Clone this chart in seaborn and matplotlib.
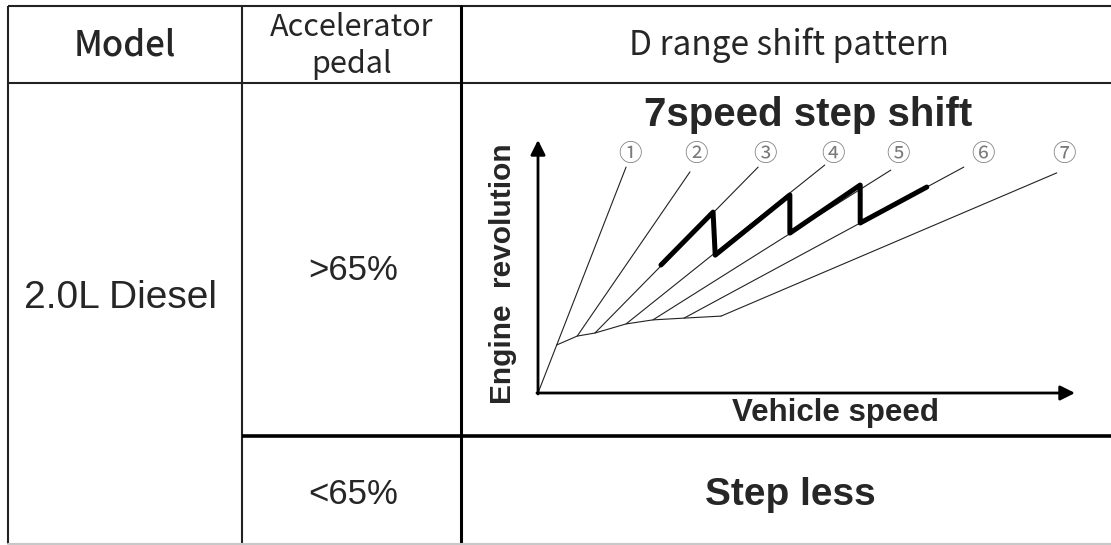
import matplotlib
matplotlib.use("Agg")
import matplotlib.pyplot as plt
import seaborn as sns

# === DATA ===
gear_labels = ["①", "②", "③", "④", "⑤", "⑥", "⑦"]
# where each gear line leaves the low curve and where it ends (speed, revolution)
gear_start_speed = [0.0, 7.3, 10.6, 16.4, 21.4, 27.2, 34.1]
gear_start_rev = [0.0, 22.5, 23.7, 27.3, 28.9, 29.6, 30.4]
gear_end_speed = [16.4, 28.3, 41.0, 53.4, 65.7, 79.3, 96.6]
gear_end_rev = [89.3, 87.4, 89.3, 90.1, 88.1, 89.3, 87.0]
label_speed = [17.1, 29.5, 42.2, 54.9, 67.0, 82.8, 97.9]
label_rev = 94.1

# low curve joining the gear lines
base_speed = [3.5, 7.3, 10.6, 16.4, 21.4, 27.2, 34.1]
base_rev = [19.0, 22.5, 23.7, 27.3, 28.9, 29.6, 30.4]

# thick step-shift trace (3rd -> 6th)
shift_speed = [22.9, 32.6, 33.0, 46.9, 46.9, 60.0, 60.0, 72.4]
shift_rev = [50.6, 71.5, 54.5, 78.3, 63.2, 82.2, 67.2, 81.4]

header = ["Model", "Accelerator\npedal", "D range shift pattern"]
model_name = "2.0L Diesel"
pedal_rows = [">65%", "<65%"]
title_7speed = "7speed step shift"
step_less = "Step less"

# === FIGURE ===
sns.set_theme(style="white")
plt.rcParams["font.family"] = ["Liberation Sans", "Noto Sans CJK JP", "DejaVu Sans"]

W, H = 1111, 545
fig = plt.figure(figsize=(W / 100, H / 100), dpi=100)
ax = fig.add_axes([0, 0, 1, 1])
ax.set_xlim(0, W)
ax.set_ylim(H, 0)
ax.axis("off")

# table grid (pixel layout)
line_kw = dict(color="#222222", solid_capstyle="butt")
ax.plot([8, W], [6, 6], lw=1.5, **line_kw)
ax.plot([8, 8], [6, 544], lw=1.5, **line_kw)
ax.plot([8, W], [83, 83], lw=1.5, **line_kw)
ax.plot([242, 242], [6, 544], lw=1.5, **line_kw)
ax.plot([461, 461], [6, 544], lw=2.2, color="black")
ax.plot([242, W], [436, 436], lw=2.6, color="black", solid_capstyle="butt")
ax.plot([8, W], [544, 544], lw=1.5, color="#c8c8c8")

cjk = ["Noto Sans CJK JP", "DejaVu Sans"]
ax.text(125, 45, header[0], fontsize=25, family=cjk, fontweight="medium",
        ha="center", va="center")
ax.text(352, 28, header[1].split("\n")[0], fontsize=22, family=cjk, ha="center", va="center")
ax.text(352, 65, header[1].split("\n")[1], fontsize=22, family=cjk, ha="center", va="center")
ax.text(789, 45, header[2], fontsize=24, family=cjk, ha="center", va="center")

ax.text(121, 298, model_name, fontsize=28, ha="center", va="center")
ax.text(353, 270, pedal_rows[0], fontsize=25, ha="center", va="center")
ax.text(353, 495, pedal_rows[1], fontsize=25, ha="center", va="center")
ax.text(790, 495, step_less, fontsize=28, fontweight="bold", ha="center", va="center")

# diagram texts
ax.text(808, 115, title_7speed, fontsize=29, fontweight="bold", ha="center", va="center")
ax.text(503, 274, "Engine  revolution", fontsize=21.5, fontweight="bold",
        rotation=90, ha="center", va="center")
ax.text(835, 413, "Vehicle speed", fontsize=22.5, fontweight="bold", ha="center", va="center")

# === SHIFT DIAGRAM ===
dx = fig.add_axes([538 / W, 1 - 393 / H, 537 / W, 253 / H])
dx.set_xlim(0, 100)
dx.set_ylim(0, 100)
dx.axis("off")
dx.patch.set_alpha(0)

for i in range(len(gear_labels)):
    sns.lineplot(x=[gear_start_speed[i], gear_end_speed[i]],
                 y=[gear_start_rev[i], gear_end_rev[i]],
                 ax=dx, color="#222222", lw=0.8, sort=False, estimator=None)
    dx.text(label_speed[i], label_rev, gear_labels[i], fontsize=17, color="#7a7a7a",
            family=cjk, ha="center", va="center", clip_on=False)

sns.lineplot(x=base_speed, y=base_rev, ax=dx, color="#222222", lw=0.8,
             sort=False, estimator=None)
sns.lineplot(x=shift_speed, y=shift_rev, ax=dx, color="black", lw=3.6,
             sort=False, estimator=None)

arrow = dict(arrowstyle="-|>", color="black", lw=2, mutation_scale=22,
             shrinkA=0, shrinkB=0)
dx.annotate("", xy=(100, 0), xytext=(-0.2, 0), arrowprops=arrow, annotation_clip=False)
dx.annotate("", xy=(0, 100), xytext=(0, -0.4), arrowprops=arrow, annotation_clip=False)

fig.savefig("out.png", dpi=100)
